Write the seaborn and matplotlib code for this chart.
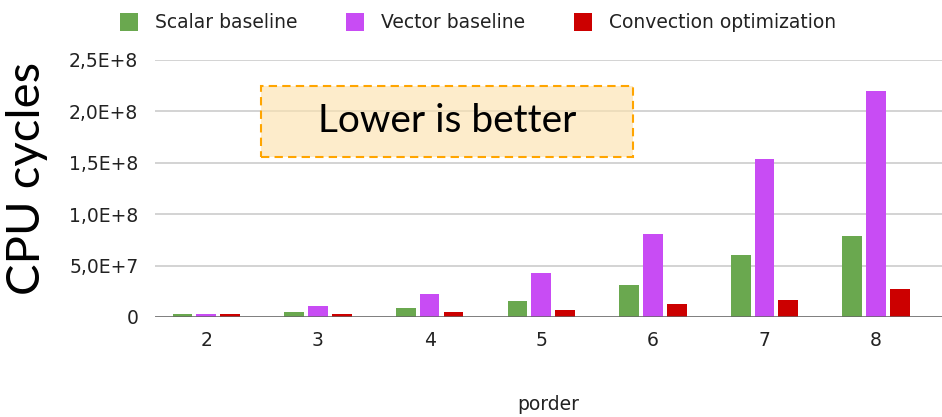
import pandas as pd
import matplotlib.pyplot as plt
import seaborn as sns
from matplotlib.patches import FancyBboxPatch
from matplotlib.ticker import FixedLocator

# data
porder = [2, 3, 4, 5, 6, 7, 8]
scalar = [2.5e6, 4.9e6, 8.5e6, 1.6e7, 3.1e7, 6.0e7, 7.9e7]
vector = [2.5e6, 1.07e7, 2.2e7, 4.3e7, 8.1e7, 1.54e8, 2.195e8]
convection = [2.5e6, 2.5e6, 4.9e6, 6.8e6, 1.24e7, 1.65e7, 2.75e7]
series = ['Scalar baseline', 'Vector baseline', 'Convection optimization']
colors = ['#6aa84f', '#c84cf4', '#cc0000']
yticks = [0, 5e7, 1e8, 1.5e8, 2e8, 2.5e8]
ytick_labels = ['0', '5,0E+7', '1,0E+8', '1,5E+8', '2,0E+8', '2,5E+8']

df = pd.DataFrame({
    'porder': [str(p) for p in porder] * 3,
    'cycles': scalar + vector + convection,
    'series': [s for s in series for _ in porder],
})

sns.set_style('white')
plt.rcParams['font.family'] = ['DejaVu Sans']

fig = plt.figure(figsize=(9.42, 4.17), dpi=100)
ax = fig.add_axes([155 / 942, 1 - 317 / 417, 1 - 155 / 942, (317 - 60) / 417])

sns.barplot(data=df, x='porder', y='cycles', hue='series', hue_order=series,
            palette=colors, width=0.64, gap=0.17, saturation=1, ax=ax,
            edgecolor='none', zorder=3)

ax.set_xlim(-0.46, 6.59)
ax.set_ylim(0, 2.5e8)
ax.yaxis.set_major_locator(FixedLocator(yticks))
ax.set_yticklabels(ytick_labels)
ax.grid(axis='y', color='#d0d0d0', linewidth=1.3, zorder=0)
ax.axhline(0, color='#666666', linewidth=1.8, zorder=4)
for s in ax.spines.values():
    s.set_visible(False)
ax.tick_params(axis='both', length=0, labelsize=13.5, colors='#222222')
ax.tick_params(axis='y', pad=12)
ax.tick_params(axis='x', pad=10)

ax.set_xlabel('porder', fontsize=13.5, color='#222222')
ax.xaxis.set_label_coords(0.5, -(395 - 317) / 257)
ax.set_ylabel('CPU cycles', fontsize=34, family=['Lato', 'DejaVu Sans'], color='black')
ax.yaxis.set_label_coords(-(155 - 48) / 787, (317 - 178) / 257)

# "Lower is better" box
x0, y0 = 261 / 942, 1 - 157 / 417
w, h = (633 - 261) / 942, (157 - 86) / 417
box = FancyBboxPatch((x0, y0), w, h, boxstyle='square,pad=0', transform=fig.transFigure,
                     facecolor='#fce3b0', alpha=0.65, edgecolor='none', zorder=5)
fig.patches.append(box)
border = FancyBboxPatch((x0, y0), w, h, boxstyle='square,pad=0', transform=fig.transFigure,
                        facecolor='none', edgecolor='#ffa500', linewidth=1.5,
                        linestyle=(0, (4, 2.5)), zorder=6)
fig.patches.append(border)
fig.text(x0 + w / 2, y0 + h / 2, 'Lower is better', ha='center', va='center',
         fontsize=28, family=['Lato', 'DejaVu Sans'], color='black', zorder=7)

handles, labels = ax.get_legend_handles_labels()
ax.get_legend().remove()
fig.legend(handles, labels, loc='upper center', bbox_to_anchor=(478 / 942, 1.01),
           ncol=3, frameon=False, fontsize=13.5, handlelength=0.95, handleheight=1.15,
           handletextpad=0.9, columnspacing=2.6, labelcolor='#222222')

fig.savefig('out.png', dpi=100)
